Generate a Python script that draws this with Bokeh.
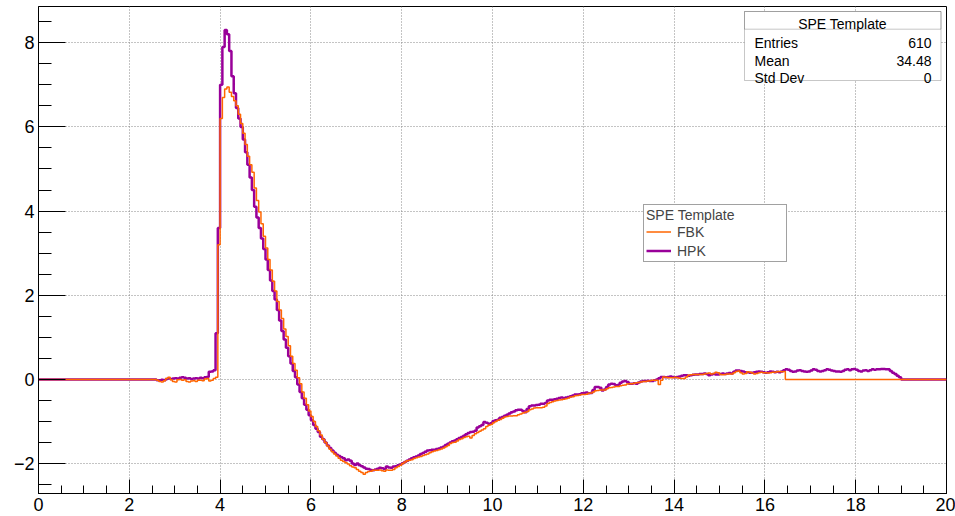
import numpy as np
from bokeh.plotting import figure
from bokeh.models import (Range1d, SingleIntervalTicker, Legend, LegendItem,
                          BoxAnnotation, Label, CustomJSTickFormatter)
from bokeh.embed import file_html
from bokeh.resources import INLINE

# ---------------- data ----------------
BIN_WIDTH = 0.05
N_BINS = 400          # 0 .. 20
FIRST_BIN = 52        # first filled bin starts at 2.60

# HPK template, bins from 2.60 upward (10 bins per row = 0.5 units)
hpk = [
    -0.02, -0.02, -0.01, -0.02, 0.01, 0.02, 0.01, 0.02, 0.03, 0.02,      # 2.60
    0.04, 0.05, 0.04, 0.02, 0.03, 0.01, 0.02, 0.03, 0.02, 0.04,          # 3.10
    0.03, 0.05, 0.06, 0.18, 0.19, 0.22, 1.1, 3.6, 7.0, 7.9,              # 3.60
    8.3, 8.2, 7.8, 7.2, 6.8, 6.45, 6.2, 6.0, 5.7, 5.4,                   # 4.10
    5.1, 4.8, 4.5, 4.1, 3.85, 3.6, 3.35, 3.1, 2.85, 2.6,                 # 4.60
    2.35, 2.1, 1.9, 1.65, 1.4, 1.15, 0.95, 0.75, 0.55, 0.38,             # 5.10
    0.2, 0.05, -0.12, -0.3, -0.45, -0.6, -0.72, -0.85, -0.97, -1.08,     # 5.60
    -1.17, -1.25, -1.36, -1.42, -1.5, -1.57, -1.63, -1.69, -1.74, -1.79, # 6.10
    -1.82, -1.85, -1.87, -1.92, -1.9, -1.93, -2.0, -2.03, -2.0, -2.04,   # 6.60
    -2.06, -2.09, -2.12, -2.13, -2.15, -2.16, -2.14, -2.12, -2.1, -2.11, # 7.10
    -2.13, -2.07, -2.09, -2.1, -2.07, -2.06, -2.04, -2.02, -1.99, -1.96, # 7.60
    -1.93, -1.9, -1.87, -1.85, -1.83, -1.81, -1.77, -1.75, -1.72, -1.69, # 8.10
    -1.68, -1.67, -1.67, -1.65, -1.64, -1.62, -1.6, -1.56, -1.53, -1.5,  # 8.60
    -1.47, -1.45, -1.42, -1.39, -1.37, -1.34, -1.3, -1.27, -1.25, -1.24, # 9.10
    -1.22, -1.14, -1.11, -1.08, -1.01, -1.03, -1.05, -1.04, -0.99, -0.97, # 9.60
    -0.96, -0.91, -0.89, -0.86, -0.84, -0.81, -0.78, -0.76, -0.73, -0.72, # 10.10
    -0.72, -0.75, -0.78, -0.7, -0.64, -0.62, -0.62, -0.61, -0.6, -0.58,  # 10.60
    -0.58, -0.56, -0.5, -0.48, -0.48, -0.47, -0.46, -0.44, -0.43, -0.44, # 11.10
    -0.43, -0.42, -0.4, -0.38, -0.36, -0.36, -0.35, -0.33, -0.32, -0.31, # 11.60
    -0.33, -0.32, -0.25, -0.18, -0.18, -0.2, -0.26, -0.24, -0.18, -0.12, # 12.10
    -0.1, -0.11, -0.14, -0.13, -0.08, -0.05, -0.04, -0.06, -0.1, -0.1,   # 12.60
    -0.09, -0.1, -0.07, -0.05, -0.04, -0.04, -0.03, -0.04, -0.04, -0.02, # 13.10
    0.0, 0.03, 0.06, 0.06, 0.05, 0.06, 0.07, 0.06, 0.05, 0.06,           # 13.60
    0.07, 0.09, 0.1, 0.1, 0.09, 0.1, 0.11, 0.12, 0.12, 0.13,             # 14.10
    0.13, 0.14, 0.13, 0.1, 0.12, 0.13, 0.12, 0.12, 0.13, 0.14,           # 14.60
    0.13, 0.14, 0.15, 0.14, 0.18, 0.21, 0.21, 0.2, 0.19, 0.17,           # 15.10
    0.17, 0.16, 0.16, 0.17, 0.18, 0.19, 0.18, 0.17, 0.16, 0.17,          # 15.60
    0.19, 0.18, 0.17, 0.18, 0.17, 0.19, 0.22, 0.24, 0.23, 0.2,           # 16.10
    0.18, 0.19, 0.21, 0.22, 0.2, 0.19, 0.18, 0.19, 0.21, 0.24,           # 16.60
    0.23, 0.2, 0.19, 0.2, 0.22, 0.24, 0.23, 0.21, 0.2, 0.19,             # 17.10
    0.19, 0.18, 0.2, 0.23, 0.24, 0.22, 0.24, 0.25, 0.23, 0.2,            # 17.60
    0.19, 0.21, 0.22, 0.2, 0.22, 0.24, 0.23, 0.24, 0.24, 0.25,           # 18.10
    0.25, 0.24, 0.24, 0.2, 0.16, 0.13, 0.09, 0.05,                       # 18.60
]

# FBK template, bins from 2.60 upward
fbk = [
    -0.02, -0.05, -0.06, -0.03, 0.02, 0.05, -0.01, -0.05, -0.06, -0.01,  # 2.60
    0.0, -0.02, -0.01, -0.05, -0.06, -0.04, -0.03, -0.05, -0.02, -0.02,  # 3.10
    -0.03, 0.01, 0.02, -0.04, -0.02, 0.02, 0.05, 3.2, 6.2, 6.7,          # 3.60
    6.9, 6.95, 6.82, 6.72, 6.62, 6.5, 6.3, 6.08, 5.85, 5.58,             # 4.10
    5.3, 5.1, 4.92, 4.55, 4.25, 3.98, 3.7, 3.4, 3.12, 2.85,              # 4.60
    2.6, 2.33, 2.1, 1.85, 1.65, 1.45, 1.2, 1.02, 0.8, 0.55,              # 5.10
    0.38, 0.22, 0.04, -0.1, -0.3, -0.45, -0.6, -0.75, -0.88, -1.0,       # 5.60
    -1.12, -1.22, -1.32, -1.42, -1.5, -1.58, -1.66, -1.72, -1.77, -1.82, # 6.10
    -1.87, -1.92, -1.95, -1.98, -2.01, -2.05, -2.08, -2.1, -2.14, -2.18, # 6.60
    -2.21, -2.25, -2.21, -2.19, -2.18, -2.16, -2.16, -2.16, -2.15, -2.17, # 7.10
    -2.18, -2.15, -2.16, -2.16, -2.14, -2.1, -2.07, -2.04, -2.0, -1.96,  # 7.60
    -1.93, -1.92, -1.91, -1.88, -1.86, -1.84, -1.83, -1.81, -1.79, -1.77, # 8.10
    -1.74, -1.72, -1.7, -1.69, -1.67, -1.65, -1.63, -1.6, -1.57, -1.52,  # 8.60
    -1.5, -1.49, -1.46, -1.43, -1.41, -1.38, -1.36, -1.35, -1.39, -1.33, # 9.10
    -1.29, -1.26, -1.23, -1.2, -1.17, -1.12, -1.09, -1.07, -1.03, -1.0,  # 9.60
    -0.97, -0.95, -0.92, -0.89, -0.88, -0.87, -0.87, -0.86, -0.86, -0.84, # 10.10
    -0.82, -0.8, -0.78, -0.76, -0.72, -0.7, -0.68, -0.67, -0.67, -0.67,  # 10.60
    -0.66, -0.63, -0.57, -0.55, -0.53, -0.51, -0.5, -0.49, -0.48, -0.47, # 11.10
    -0.46, -0.44, -0.42, -0.41, -0.39, -0.38, -0.37, -0.36, -0.36, -0.35, # 11.60
    -0.33, -0.32, -0.3, -0.27, -0.26, -0.25, -0.25, -0.25, -0.22, -0.2,  # 12.10
    -0.19, -0.18, -0.17, -0.17, -0.15, -0.14, -0.13, -0.11, -0.1, -0.1,  # 12.60
    -0.09, -0.08, -0.07, -0.06, -0.05, -0.05, -0.04, -0.03, -0.02, -0.02, # 13.10
    -0.02, -0.12, -0.02, 0.06, 0.05, 0.04, 0.04, 0.04, 0.05, 0.04,       # 13.60
    0.03, 0.02, 0.02, 0.06, 0.1, 0.11, 0.12, 0.12, 0.12, 0.12,           # 14.10
    0.12, 0.13, 0.14, 0.15, 0.13, 0.14, 0.17, 0.16, 0.12, 0.11,          # 14.60
    0.12, 0.13, 0.13, 0.13, 0.16, 0.19, 0.2, 0.16, 0.13, 0.14,           # 15.10
    0.18, 0.17, 0.15, 0.13, 0.14, 0.16, 0.17, 0.16, 0.16, 0.15,          # 15.60
    0.16, 0.17, 0.17, 0.18, 0.19, 0.18, 0.19,                            # 16.10
]

series_names = ["FBK", "HPK"]
series_colors = ["#ff6600", "#990099"]
legend_title = "SPE Template"
stats_title = "SPE Template"
stats_names = ["Entries", "Mean", "Std Dev"]
stats_values = ["610", "34.48", "0"]

X0, X1 = 0.0, 20.0
Y0, Y1 = -2.71, 8.86

# ---------------- helpers ----------------
edges = np.arange(N_BINS + 1) * BIN_WIDTH


def full_hist(vals):
    y = np.zeros(N_BINS)
    y[FIRST_BIN:FIRST_BIN + len(vals)] = vals
    return np.append(y, y[-1])


FRAME_L, FRAME_T, FRAME_W, FRAME_H = 38, 6, 908, 487


def dx(px):
    return X0 + (px - FRAME_L) / FRAME_W * (X1 - X0)


def dy(py):
    return Y1 - (py - FRAME_T) / FRAME_H * (Y1 - Y0)


FONT = "Liberation Sans"

# ---------------- figure ----------------
p = figure(width=955, height=516, x_range=Range1d(X0, X1), y_range=Range1d(Y0, Y1),
           output_backend="svg", toolbar_location=None,
           min_border_left=FRAME_L, min_border_right=955 - FRAME_L - FRAME_W,
           min_border_top=FRAME_T, min_border_bottom=516 - FRAME_T - FRAME_H)
p.background_fill_color = "white"
p.border_fill_color = "white"
p.outline_line_color = "black"
p.outline_line_width = 1
p.outline_line_alpha = 1

fmt = CustomJSTickFormatter(code="return tick < 0 ? '\u2212' + (-tick) : '' + tick;")
for ax, mj, mn in ((p.xaxis[0], 14, 8), (p.yaxis[0], 27, 13)):
    ax.ticker = SingleIntervalTicker(interval=2, num_minor_ticks=4)
    ax.formatter = fmt
    ax.major_tick_in = mj
    ax.major_tick_out = 0
    ax.minor_tick_in = mn
    ax.minor_tick_out = 0
    ax.axis_line_color = "black"
    ax.major_tick_line_color = "black"
    ax.minor_tick_line_color = "black"
    ax.major_label_text_font = FONT
    ax.major_label_text_font_size = "18px"
    ax.major_label_text_color = "black"
    ax.major_label_standoff = 4

p.grid.grid_line_color = "#888888"
p.grid.grid_line_dash = "1 2"
p.grid.grid_line_width = 1

r_hpk = p.step(edges, full_hist(hpk), mode="after", line_color=series_colors[1], line_width=2.5)
r_fbk = p.step(edges, full_hist(fbk), mode="after", line_color=series_colors[0], line_width=1.5)

legend = Legend(items=[LegendItem(label=series_names[0], renderers=[r_fbk]),
                       LegendItem(label=series_names[1], renderers=[r_hpk])],
                title=legend_title, location=(643 - FRAME_L, FRAME_T + FRAME_H - 262))
legend.title_text_font = FONT
legend.title_text_font_size = "14px"
legend.title_text_font_style = "normal"
legend.title_standoff = 0
legend.label_text_font = FONT
legend.label_text_font_size = "14px"
legend.border_line_color = "#444444"
legend.border_line_width = 1
legend.background_fill_color = "white"
legend.background_fill_alpha = 1
legend.padding = 2
legend.spacing = 2
legend.margin = 0
legend.glyph_width = 25
legend.glyph_height = 17
legend.label_height = 17
legend.label_width = 107
legend.label_standoff = 6
p.add_layout(legend)

# stats box
p.add_layout(BoxAnnotation(left=dx(744), right=dx(940.5), top=dy(11), bottom=dy(80),
                           fill_color="white", fill_alpha=1,
                           line_color="#444444", line_width=1))
p.add_layout(BoxAnnotation(left=dx(744), right=dx(940.5), top=dy(11), bottom=dy(28.7),
                           fill_alpha=0, line_color="#444444", line_width=1))
p.add_layout(Label(x=dx(842), y=dy(23.5), text=stats_title, text_align="center",
                   text_baseline="alphabetic", text_font=FONT, text_font_size="14px",
                   text_color="black"))
for i, (nm, vl) in enumerate(zip(stats_names, stats_values)):
    base = [42.0, 60.5, 77.5][i]
    p.add_layout(Label(x=dx(754), y=dy(base), text=nm, text_align="left",
                       text_baseline="alphabetic", text_font=FONT, text_font_size="14px",
                       text_color="black"))
    p.add_layout(Label(x=dx(931), y=dy(base), text=vl, text_align="right",
                       text_baseline="alphabetic", text_font=FONT, text_font_size="14px",
                       text_color="black"))

open("out.html", "w").write(file_html(p, INLINE))
